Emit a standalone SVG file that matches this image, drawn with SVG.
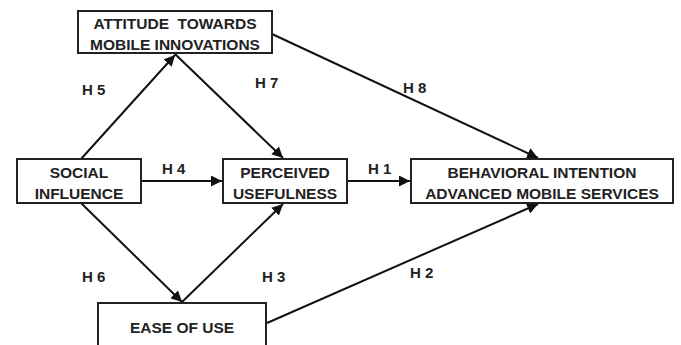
<svg xmlns="http://www.w3.org/2000/svg" width="681" height="345" viewBox="0 0 681 345">
<style>
.box{fill:#fff;stroke:#222;stroke-width:2}
.t{font-family:"Liberation Sans",Arial,sans-serif;font-weight:bold;font-size:15.5px;fill:#222;text-anchor:middle;white-space:pre}
.h{font-family:"Liberation Sans",Arial,sans-serif;font-weight:bold;font-size:15px;fill:#222}
.c{stroke:#111;stroke-width:2;fill:none;marker-end:url(#ah)}
.n{stroke:#111;stroke-width:2;fill:none}
</style>
<defs>
<marker id="ah" viewBox="0 0 10 10" refX="10" refY="5" markerWidth="5.5" markerHeight="5.5" orient="auto" markerUnits="strokeWidth">
<path d="M0,0 L10,5 L0,10 z" fill="#111"/>
</marker>
</defs>
<rect width="681" height="345" fill="#fff"/>
<g id="connectors">
<line class="c" x1="81" y1="159" x2="175" y2="55"/>
<line class="c" x1="175" y1="54" x2="283" y2="158"/>
<line class="c" x1="272" y1="34" x2="538" y2="158"/>
<line class="c" x1="141" y1="181" x2="222" y2="181"/>
<line class="c" x1="347" y1="181" x2="410" y2="181"/>
<line class="c" x1="81" y1="203" x2="182" y2="302"/>
<line class="c" x1="182" y1="302" x2="283" y2="204"/>
<line class="c" x1="267" y1="323" x2="538" y2="204"/>
<text class="h" x="82" y="95">H 5</text>
<text class="h" x="255" y="88">H 7</text>
<text class="h" x="403" y="93">H 8</text>
<text class="h" x="162" y="174">H 4</text>
<text class="h" x="368" y="174">H 1</text>
<text class="h" x="82" y="282">H 6</text>
<text class="h" x="262" y="282">H 3</text>
<text class="h" x="410" y="278">H 2</text>
</g>
<g id="attitude">
<rect class="box" x="78" y="11" width="194" height="42"/>
<text class="t" x="175" y="29">ATTITUDE  TOWARDS</text>
<text class="t" x="175" y="50">MOBILE INNOVATIONS</text>
</g>
<g id="social">
<rect class="box" x="17" y="159" width="124" height="44"/>
<text class="t" x="79" y="178">SOCIAL</text>
<text class="t" x="79" y="199">INFLUENCE</text>
</g>
<g id="perceived">
<rect class="box" x="223" y="159" width="124" height="44"/>
<text class="t" x="285" y="178">PERCEIVED</text>
<text class="t" x="285" y="199">USEFULNESS</text>
</g>
<g id="behavioral">
<rect class="box" x="411" y="159" width="262" height="44"/>
<text class="t" x="542" y="178">BEHAVIORAL INTENTION</text>
<text class="t" x="542" y="199">ADVANCED MOBILE SERVICES</text>
</g>
<g id="ease">
<rect class="box" x="98" y="303" width="168" height="44"/>
<text class="t" x="182" y="333">EASE OF USE</text>
</g>
</svg>
